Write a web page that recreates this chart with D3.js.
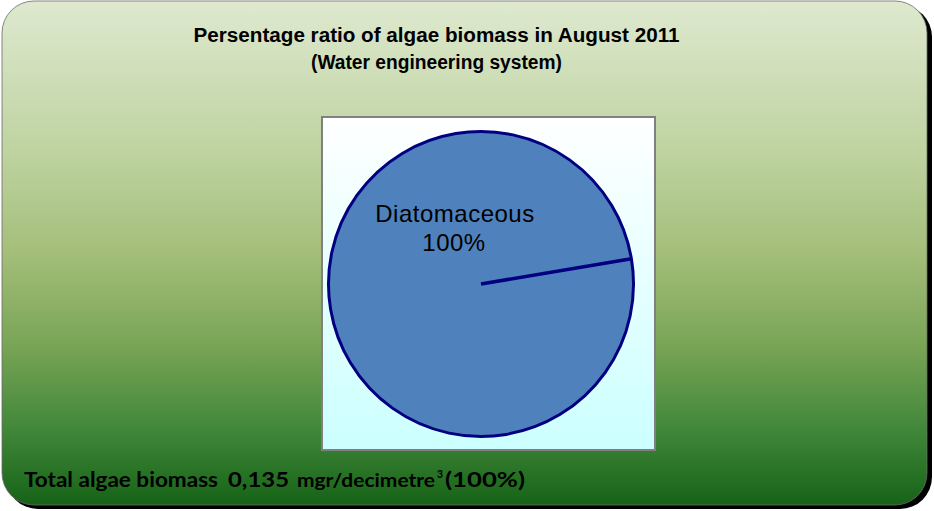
<!DOCTYPE html>
<html><head><meta charset="utf-8">
<script src="https://cdn.jsdelivr.net/npm/d3@7"></script>
<style>html,body{margin:0;padding:0;background:#fff;}svg{display:block;}</style>
</head><body>
<svg id="chart" width="934" height="511"></svg>
<script>
const titleLines = ["Persentage ratio of algae biomass in August 2011", "(Water engineering system)"];
const categories = ["Diatomaceous"];
const values = [100];
const percentLabels = ["100%"];
const totalLabel = "Total algae biomass";
const totalValue = "0,135";
const unitLabel = "mgr/decimetre";
const unitSup = "3";
const tailLabel = "(100%)";

const svg = d3.select("#chart");
const defs = svg.append("defs");
const bg = defs.append("linearGradient").attr("id","bg").attr("x1",0).attr("y1",0).attr("x2",0).attr("y2",1);
[[0,"#dee9cf"],[0.3,"#bed3a0"],[0.5,"#a4be7a"],[0.68,"#7aa556"],[0.85,"#41873a"],[1,"#166317"]]
  .forEach(([o,c])=>bg.append("stop").attr("offset",o).attr("stop-color",c));
const pg = defs.append("linearGradient").attr("id","pg").attr("x1",0).attr("y1",0).attr("x2",0).attr("y2",1);
[[0,"#ffffff"],[1,"#ccffff"]].forEach(([o,c])=>pg.append("stop").attr("offset",o).attr("stop-color",c));

// shadow + frame
svg.append("rect").attr("x",6).attr("y",5).attr("width",926).attr("height",504).attr("rx",32).attr("fill","#000");
svg.append("rect").attr("x",2).attr("y",1).attr("width",925).attr("height",504).attr("rx",32)
  .attr("fill","url(#bg)").attr("stroke","#6a6a6a").attr("stroke-width",0.8);

// title
const titleW = [486, 251];
titleLines.forEach((t,i)=>{
  svg.append("text").attr("text-anchor","middle").attr("font-family","Liberation Sans, Arial, sans-serif")
    .attr("font-weight","bold").attr("font-size",20).attr("fill","#000")
    .attr("x",436.5).attr("y",41.5+i*27.5)
    .attr("textLength",titleW[i]).attr("lengthAdjust","spacingAndGlyphs").text(t);
});

// plot area
const px0=322, py0=117, px1=655, py1=450;
svg.append("rect").attr("x",px0).attr("y",py0).attr("width",px1-px0).attr("height",py1-py0)
  .attr("fill","url(#pg)").attr("stroke","#808080").attr("stroke-width",2);

const cx=481, cy=284, R=152.5;
const startA = 80.5*Math.PI/180;
const pie = d3.pie().sort(null).startAngle(startA).endAngle(startA+2*Math.PI)(values);
const arc = d3.arc().innerRadius(0).outerRadius(R);
const g = svg.append("g").attr("transform",`translate(${cx},${cy})`);
g.selectAll("path").data(pie).join("path").attr("d",arc)
  .attr("fill","#4f81bd").attr("stroke","#000080").attr("stroke-width",3).attr("stroke-linejoin","round");
pie.forEach(d=>{
  g.append("line").attr("x1",0).attr("y1",0)
   .attr("x2",R*Math.sin(d.startAngle)).attr("y2",-R*Math.cos(d.startAngle))
   .attr("stroke","#000080").attr("stroke-width",3.5);
});

// label
const lab = svg.append("text").attr("text-anchor","middle").attr("font-family","Liberation Sans, Arial, sans-serif")
  .attr("font-size",24).attr("letter-spacing",0.5).attr("fill","#000");
categories.forEach((c,i)=>{
  lab.append("tspan").attr("x",455).attr("y",222).text(c);
  lab.append("tspan").attr("x",454).attr("y",251).text(percentLabels[i]);
});

// bottom text
const bf = "Lato, Open Sans, sans-serif";
const parts = [
  {t: totalLabel, x: 24, w: 194, fs: 21.5, y: 487},
  {t: totalValue, x: 228, w: 61, fs: 21.5, y: 487},
  {t: unitLabel, x: 297, w: 138, fs: 19.5, y: 487},
  {t: unitSup, x: 437, w: 6, fs: 11, y: 478},
  {t: tailLabel, x: 445, w: 80, fs: 21.5, y: 487}
];
parts.forEach(p=>{
  svg.append("text").attr("x",p.x).attr("y",p.y).attr("font-family",bf).attr("font-weight","bold")
    .attr("font-size",p.fs).attr("fill","#000")
    .attr("textLength",p.w).attr("lengthAdjust","spacingAndGlyphs").text(p.t);
});
</script>
</body></html>
